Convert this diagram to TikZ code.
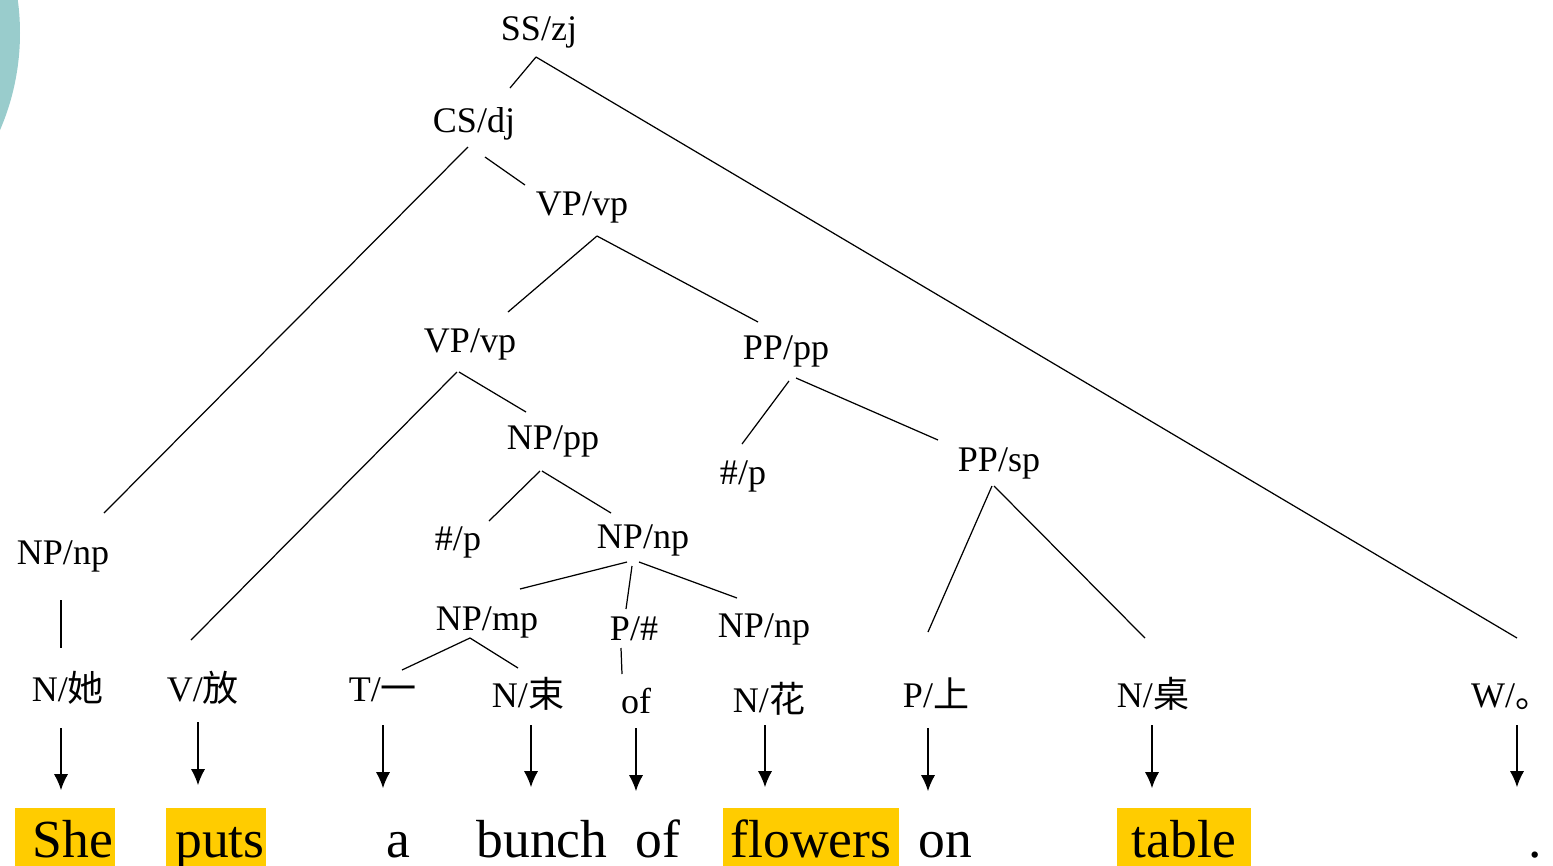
\documentclass[tikz,border=0pt]{standalone}
\usepackage{fontspec}
\setmainfont{Liberation Serif}
\newfontfamily\tnr{Liberation Serif}
\newfontfamily\cjk{Noto Sans CJK SC}
\usetikzlibrary{arrows.meta}

\definecolor{hlyellow}{RGB}{255,204,0}
\definecolor{tealbg}{RGB}{153,204,204}

\begin{document}
\begin{tikzpicture}[x=0.02cm, y=-0.02cm, >={Latex[length=9pt,width=8pt]},
  lbl/.style={inner sep=0pt, font=\tnr\fontsize{20.5}{24}\selectfont, text height=1.4em, text depth=0.22em},
  word/.style={anchor=base, inner sep=0pt, font=\tnr\fontsize{30.5}{36}\selectfont},
  hl/.style={fill=hlyellow, text height=0.98cm, text depth=0.18cm, minimum width=#1},
  edge/.style={line width=0.7pt},
  arr/.style={->, line width=0.6pt}]

\useasboundingbox (0,0) rectangle (1553,866);

\begin{scope}
\clip (0,0) rectangle (1553,866);
\fill[tealbg] (-225,33) circle[radius=245];
\end{scope}

% phrase labels
\node[lbl] (ss)    at (539,30)  {SS/zj};
\node[lbl] (cs)    at (474,122) {CS/dj};
\node[lbl] (vpa)   at (582,205) {VP/vp};
\node[lbl] (vpb)   at (470,342) {VP/vp};
\node[lbl] (ppa)   at (786,349) {PP/pp};
\node[lbl] (nppp)  at (553,439) {NP/pp};
\node[lbl] (hpa)   at (743,474) {\#/p};
\node[lbl] (ppsp)  at (999,461) {PP/sp};
\node[lbl] (npa)   at (63,554)  {NP/np};
\node[lbl] (hpb)   at (458,540) {\#/p};
\node[lbl] (npb)   at (643,538) {NP/np};
\node[lbl] (npmp)  at (487,620) {NP/mp};
\node[lbl] (phash) at (634,630) {P/\#};
\node[lbl] (npc)   at (764,627) {NP/np};

% word labels
\node[lbl] (nta)    at (68,691)   {N/{\cjk 她}};
\node[lbl] (vfang)  at (203,691)  {V/{\cjk 放}};
\node[lbl] (tyi)    at (383,691)  {T/{\cjk 一}};
\node[lbl] (nshu)   at (528,697)  {N/{\cjk 束}};
\node[lbl] (oflbl)  at (636,703)  {of};
\node[lbl] (nhua)   at (769,702)  {N/{\cjk 花}};
\node[lbl] (pshang) at (936,697)  {P/{\cjk 上}};
\node[lbl] (nzhuo)  at (1153,697) {N/{\cjk 桌}};
\node[lbl] (wdot)   at (1511,697) {W/{\cjk 。}};

% english words
\node[word, hl=2cm]    (she)     at (65,857)   {\hspace{0.32cm}She};
\node[word, hl=2cm]    (puts)    at (216,857)  {\hspace{0.16cm}puts};
\node[word]            (a)       at (398,857)  {a};
\node[word]            (bunch)   at (542,857)  {bunch};
\node[word]            (of)      at (658,857)  {of};
\node[word, hl=3.52cm] (flowers) at (811,857)  {flowers};
\node[word]            (on)      at (945,857)  {on};
\node[word, hl=2.68cm] (table)   at (1184,857) {table};
\node[word]            (dot)     at (1535,857) {.};

% tree
\draw[edge] ([shift={(-3,27)}]ss.center)    -- ([shift={(36,-34)}]cs.center);
\draw[edge] ([shift={(-3,27)}]ss.center)    -- ([shift={(6,-59)}]wdot.center);
\draw[edge] ([shift={(-6,25)}]cs.center)    -- ([shift={(41,-41)}]npa.center);
\draw[edge] ([shift={(11,35)}]cs.center)    -- ([shift={(-57,-20)}]vpa.center);
\draw[edge] ([shift={(15,31)}]vpa.center)   -- ([shift={(38,-30)}]vpb.center);
\draw[edge] ([shift={(15,31)}]vpa.center)   -- ([shift={(-28,-27)}]ppa.center);
\draw[edge] ([shift={(-13,30)}]vpb.center)  -- ([shift={(-12,-51)}]vfang.center);
\draw[edge] ([shift={(-11,30)}]vpb.center)  -- ([shift={(-27,-27)}]nppp.center);
\draw[edge] ([shift={(3,32)}]ppa.center)    -- ([shift={(-1,-30)}]hpa.center);
\draw[edge] ([shift={(10,29)}]ppa.center)   -- ([shift={(-61,-21)}]ppsp.center);
\draw[edge] ([shift={(-13,32)}]nppp.center) -- ([shift={(31,-19)}]hpb.center);
\draw[edge] ([shift={(-11,32)}]nppp.center) -- ([shift={(-32,-25)}]npb.center);
\draw[edge] ([shift={(-16,24)}]npb.center)  -- ([shift={(33,-31)}]npmp.center);
\draw[edge] ([shift={(-11,28)}]npb.center)  -- ([shift={(-8,-21)}]phash.center);
\draw[edge] ([shift={(-4,24)}]npb.center)   -- ([shift={(-27,-29)}]npc.center);
\draw[edge] ([shift={(-17,18)}]npmp.center) -- ([shift={(19,-21)}]tyi.center);
\draw[edge] ([shift={(-17,18)}]npmp.center) -- ([shift={(-10,-29)}]nshu.center);
\draw[edge] ([shift={(-13,18)}]phash.center) -- ([shift={(-14,-29)}]oflbl.center);
\draw[edge] ([shift={(-7,25)}]ppsp.center)  -- ([shift={(-8,-65)}]pshang.center);
\draw[edge] ([shift={(-5,25)}]ppsp.center)  -- ([shift={(-8,-59)}]nzhuo.center);
\draw[edge] ([shift={(-2,46)}]npa.center)   -- ([shift={(-7,-43)}]nta.center);

% label to word
\draw[arr] ([shift={(-7,37)}]nta.center)    -- ([shift={(-4,-67)}]she.base);
\draw[arr] ([shift={(-5,31)}]vfang.center)  -- ([shift={(-18,-72)}]puts.base);
\draw[arr] ([shift={(0,34)}]tyi.center)     -- ([shift={(-15,-69)}]a.base);
\draw[arr] ([shift={(3,28)}]nshu.center)    -- ([shift={(-11,-70)}]bunch.base);
\draw[arr] ([shift={(0,25)}]oflbl.center)   -- ([shift={(-22,-66)}]of.base);
\draw[arr] ([shift={(-4,23)}]nhua.center)   -- ([shift={(-46,-70)}]flowers.base);
\draw[arr] ([shift={(-8,31)}]pshang.center) -- ([shift={(-17,-66)}]on.base);
\draw[arr] ([shift={(-1,28)}]nzhuo.center)  -- ([shift={(-32,-69)}]table.base);
\draw[arr] ([shift={(6,28)}]wdot.center)    -- ([shift={(-18,-70)}]dot.base);

\end{tikzpicture}
\end{document}
